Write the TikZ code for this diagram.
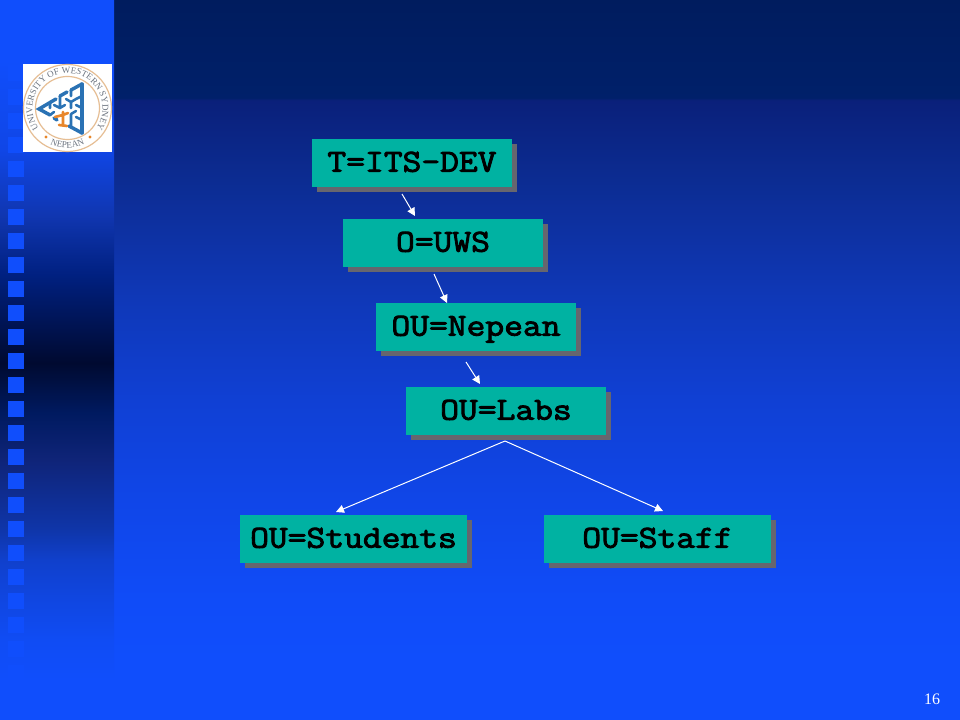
\documentclass[tikz,border=0pt]{standalone}
\usepackage{fontspec}
\setmainfont{Liberation Serif}
\newfontfamily\boxfont{Latin Modern Mono}[FakeBold=2.8,FakeStretch=1.14]
\usetikzlibrary{arrows.meta,decorations.text}
\definecolor{slideblue}{HTML}{104EFC}
\definecolor{boxteal}{HTML}{00B2A2}
\definecolor{shadowgray}{HTML}{66666E}
\definecolor{logoblue}{HTML}{2A72B4}
\definecolor{logoorange}{HTML}{E8862A}
\definecolor{logotan}{HTML}{E6BE94}
\definecolor{logotext}{HTML}{6C7480}
% 25bp = bottom of the area (y=720), 75bp = top (y=0)
\pgfdeclareverticalshading{rightbg}{100bp}{
 color(0bp)=(slideblue);
 color(25bp)=(slideblue);
 color(29.2bp)=(slideblue);
 color(33.3bp)=(rgb,255:red,16;green,76;blue,248);
 color(40.3bp)=(rgb,255:red,16;green,70;blue,232);
 color(47.2bp)=(rgb,255:red,16;green,64;blue,212);
 color(54.2bp)=(rgb,255:red,15;green,56;blue,184);
 color(62.5bp)=(rgb,255:red,12;green,44;blue,146);
 color(68.05bp)=(rgb,255:red,10;green,32;blue,122);
 color(68.2bp)=(rgb,255:red,0;green,32;blue,106);
 color(75bp)=(rgb,255:red,0;green,28;blue,94);
 color(100bp)=(rgb,255:red,0;green,28;blue,94)}
\pgfdeclareverticalshading{leftbg}{100bp}{
 color(0bp)=(slideblue);
 color(25bp)=(slideblue);
 color(27.8bp)=(slideblue);
 color(30.6bp)=(rgb,255:red,16;green,76;blue,244);
 color(33.5bp)=(rgb,255:red,16;green,70;blue,224);
 color(36.1bp)=(rgb,255:red,16;green,64;blue,204);
 color(38.3bp)=(rgb,255:red,15;green,53;blue,168);
 color(43.1bp)=(rgb,255:red,15;green,36;blue,120);
 color(46.3bp)=(rgb,255:red,0;green,26;blue,96);
 color(49.8bp)=(rgb,255:red,0;green,10;blue,48);
 color(55.9bp)=(rgb,255:red,0;green,32;blue,128);
 color(60bp)=(rgb,255:red,16;green,54;blue,176);
 color(64.6bp)=(rgb,255:red,16;green,70;blue,230);
 color(70.8bp)=(slideblue);
 color(75bp)=(slideblue);
 color(100bp)=(slideblue)}
\tikzset{
 x=0.75pt,y=-0.75pt,
 sq/.style={fill=slideblue,draw=none},
 dirbox/.style={fill=boxteal,draw=none,minimum height=36pt,inner sep=0pt,text height=13pt,text depth=0pt,
   font=\boxfont\fontsize{24pt}{24pt}\selectfont,text=black},
 boxshadow/.style={fill=shadowgray,draw=none},
 link/.style={draw=white,line width=0.75pt,-{Triangle[width=6pt,length=6pt]}},
 motif/.style={draw=logoblue,line width=1.9pt,line cap=round},
 motiforange/.style={draw=logoorange,line width=2pt,line cap=round},
}
\begin{document}
\begin{tikzpicture}
\useasboundingbox (0,0) rectangle (960,720);
\shade[shading=rightbg] (114,0) rectangle (960,720);
\shade[shading=leftbg] (0,0) rectangle (114,720);
\foreach \i in {0,...,27}{
  \fill[sq] (8,{17+\i*24}) rectangle (24,{33+\i*24});
}
% logo
\fill[white] (23,64) rectangle (112,152);
\draw[logotan,line width=0.9pt] (67.5,108) ellipse [x radius=44,y radius=43.5];
\draw[logotan,line width=0.9pt] (67.5,108) ellipse [x radius=32,y radius=31.5];
\path[postaction={decorate},decoration={text along path,text align=center,
   text={|\fontsize{6.8pt}{6.8pt}\selectfont\color{logotext}|UNIVERSITY OF WESTERN SYDNEY}}]
   (42.75,132.75) arc[start angle=135,end angle=405,radius=35];
\path[postaction={decorate},decoration={text along path,text align=center,
   text={|\fontsize{6.8pt}{6.8pt}\selectfont\color{logotext}|NEPEAN}}]
   (47.5,142.6) arc[start angle=120,end angle=60,radius=40];
\fill[logoorange] (46,137) circle (1.6);
\fill[logoorange] (90,137) circle (1.6);
% triangle motif
\draw[motif,line width=2.6pt] (82,84) -- (82,133);
\draw[motif,line width=2.6pt] (82,84) -- (71,90) (67,92) -- (60,96) (56,99) -- (39,109) -- (50,115) (54,118) -- (57,120) (69,126) -- (82,133);
\draw[motif] (71,90) -- (71,96) (60,96) -- (60,102) (50,102) -- (50,108)
  (82,96) -- (76,99) (71,102) -- (76,99) (71,102) -- (66,99) (71,102) -- (71,108)
  (82,108) -- (76,105) (60,108) -- (60,102) (60,108) -- (54,105) (60,108) -- (65,105)
  (71,114) -- (76,111) (71,114) -- (71,120) (82,120) -- (76,117) (71,127) -- (71,120) (50,115) -- (54,112);
\draw[motiforange] (55,117) -- (63,115) -- (68,113) (63,112) -- (63,125) (59,125) -- (67,126);
% boxes
\fill[boxshadow] (317,144) rectangle (517,192);
\fill[boxshadow] (348,224) rectangle (548,272);
\fill[boxshadow] (381,308) rectangle (581,356);
\fill[boxshadow] (411,392) rectangle (611,440);
\fill[boxshadow] (245,520) rectangle (472,568);
\fill[boxshadow] (549,520) rectangle (776,568);
\node[dirbox,minimum width=150pt] (t) at (412,163) {T=ITS-DEV};
\node[dirbox,minimum width=150pt] (o) at (443,243) {O=UWS};
\node[dirbox,minimum width=150pt] (nepean) at (476,327) {OU=Nepean};
\node[dirbox,minimum width=150pt] (labs) at (506,411) {OU=Labs};
\node[dirbox,minimum width=170.25pt] (students) at (353.5,539) {OU=Students};
\node[dirbox,minimum width=170.25pt] (staff) at (657.5,539) {OU=Staff};
% connector ends
\coordinate (t0) at (402,194); \coordinate (t1) at (415,216);
\coordinate (o0) at (434,274); \coordinate (o1) at (447,303);
\coordinate (n0) at (466,362); \coordinate (n1) at (480,384);
\coordinate (l0) at (505,441); \coordinate (l1) at (336,512); \coordinate (l2) at (663,511);
\draw[link] (t0) -- (t1);
\draw[link] (o0) -- (o1);
\draw[link] (n0) -- (n1);
\draw[link] (l0) -- (l1);
\draw[link] (l0) -- (l2);
\node[text=white,font=\fontsize{12pt}{12pt}\selectfont,inner sep=0pt] (page) at (932,699) {16};
\end{tikzpicture}
\end{document}
